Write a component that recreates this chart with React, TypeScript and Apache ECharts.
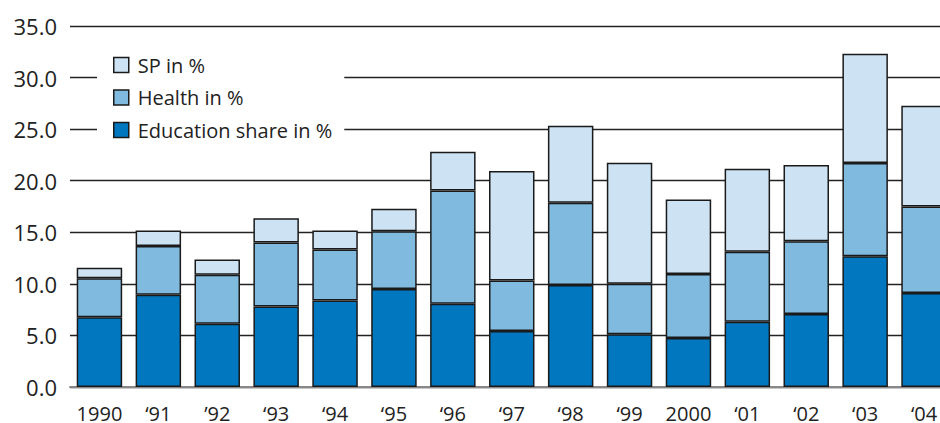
import React, { useEffect, useRef } from "react";
import * as echarts from "echarts";

// Years on the horizontal axis
const years = ["1990", "‘91", "’92", "‘93", "‘94", "‘95", "‘96", "‘97", "‘98", "‘99", "2000", "‘01", "‘02", "‘03", "‘04"];

// Stacked shares (percent) per year
const education = [6.76, 8.95, 6.13, 7.81, 8.38, 9.49, 8.06, 5.43, 9.9, 5.11, 4.76, 6.32, 7.08, 12.67, 9.11];
const health = [3.78, 4.73, 4.76, 6.19, 4.95, 5.62, 10.99, 4.89, 7.97, 4.89, 6.19, 6.79, 7.05, 9.04, 8.38];
const sp = [1.01, 1.49, 1.46, 2.35, 1.84, 2.16, 3.75, 10.63, 7.46, 11.75, 7.24, 8.06, 7.39, 10.59, 9.78];

const seriesNames = ["Education share in %", "Health in %", "SP in %"];
const seriesColors = ["#0077bf", "#80badf", "#cde3f3"];

const FONT = "'Open Sans', sans-serif";
const TEXT_COLOR = "#222";

export default function App() {
  const ref = useRef<HTMLDivElement>(null);

  useEffect(() => {
    if (!ref.current) return;
    const chart = echarts.init(ref.current, undefined, { renderer: "svg" });
    const values = [education, health, sp];

    chart.setOption({
      animation: false,
      backgroundColor: "#fff",
      textStyle: { fontFamily: FONT, color: TEXT_COLOR },
      grid: { left: 70, right: 26.5, top: 26, bottom: 31, containLabel: false },
      legend: {
        orient: "vertical",
        left: 97,
        top: 47,
        padding: [8, 12, 8, 16],
        backgroundColor: "#fff",
        itemWidth: 15,
        itemHeight: 15,
        itemGap: 12.5,
        icon: "rect",
        data: ["SP in %", "Health in %", "Education share in %"],
        textStyle: {
          fontFamily: FONT,
          fontSize: 20,
          lineHeight: 20,
          color: TEXT_COLOR,
          padding: [0, 0, 0, 4],
        },
        itemStyle: { borderColor: "#1a1a1a", borderWidth: 1.5 },
      },
      xAxis: {
        type: "category",
        data: years,
        axisTick: { show: false },
        axisLine: { lineStyle: { color: "#888", width: 2 } },
        axisLabel: {
          fontFamily: FONT,
          fontSize: 20,
          color: TEXT_COLOR,
          margin: 16,
          interval: 0,
        },
      },
      yAxis: {
        type: "value",
        min: 0,
        max: 35,
        interval: 5,
        axisLine: { show: false },
        axisTick: { show: false },
        axisLabel: {
          fontFamily: FONT,
          fontSize: 22,
          color: TEXT_COLOR,
          margin: 13,
          formatter: (v: number) => v.toFixed(1),
        },
        splitLine: { lineStyle: { color: "#222", width: 1.3 } },
      },
      series: seriesNames.map((name, i) => ({
        name,
        type: "bar",
        stack: "total",
        barCategoryGap: "22.8%",
        data: values[i],
        itemStyle: {
          color: seriesColors[i],
          borderColor: "#1a1a1a",
          borderWidth: 1.5,
        },
      })),
    });

    return () => chart.dispose();
  }, []);

  return (
    <div
      style={{
        position: "fixed",
        left: 0,
        top: 0,
        width: 940,
        height: 423,
        overflow: "hidden",
        background: "#fff",
      }}
    >
      <div ref={ref} style={{ width: 980, height: 423 }} />
    </div>
  );
}
